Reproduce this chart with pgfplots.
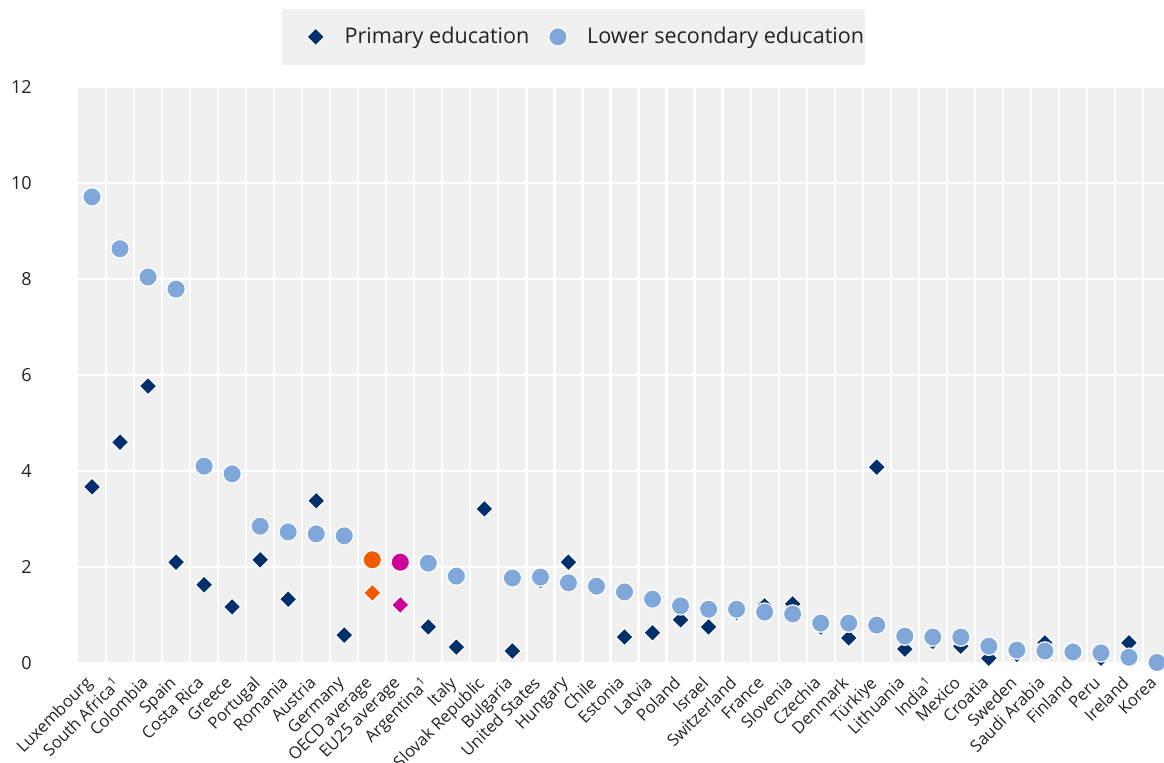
\documentclass[border=0pt]{standalone}
\usepackage{pgfplots}
\pgfplotsset{compat=1.18}
\usepackage{pgfplotstable}
\usepackage{fontspec}
\setmainfont{Open Sans}
\definecolor{bg}{HTML}{F0F0F0}
\definecolor{navy}{HTML}{002F6C}
\definecolor{lblue}{HTML}{7FA7D9}
\definecolor{oecd}{HTML}{F25A00}
\definecolor{eu}{HTML}{CC0099}
\definecolor{txt}{HTML}{222222}

\pgfplotstableread{
x prim low
0 3.67 9.71
1 4.60 8.63
2 5.77 8.04
3 2.10 7.79
4 1.63 4.10
5 1.17 3.94
6 2.15 2.85
7 1.33 2.73
8 3.38 2.69
9 0.58 2.65
10 1.46 2.15
11 1.21 2.10
12 0.75 2.08
13 0.33 1.81
14 3.21 nan
15 0.25 1.77
16 1.72 1.79
17 2.10 1.67
18 1.55 1.60
19 0.54 1.48
20 0.63 1.33
21 0.90 1.19
22 0.75 1.12
23 1.05 1.12
24 1.19 1.06
25 1.23 1.02
26 0.75 0.83
27 0.52 0.83
28 4.08 0.79
29 0.29 0.56
30 0.45 0.54
31 0.35 0.54
32 0.10 0.35
33 0.18 0.27
34 0.42 0.25
35 0.25 0.23
36 0.10 0.21
37 0.42 0.12
38 0.02 0.01
}\data

\begin{document}
\begin{tikzpicture}
\begin{axis}[
  name=ax,
  scale only axis,
  width=543pt, height=288pt,
  xmin=-0.5, xmax=38.25,
  ymin=0, ymax=12,
  clip=false,
  axis background/.style={fill=bg},
  axis line style={draw=none},
  major tick length=0pt, minor tick length=0pt,
  ytick={0,2,...,12},
  ymajorgrids,
  major grid style={white, line width=1.1pt},
  xtick={0,...,38},
  minor xtick={0.5,1.5,...,37.5},
  xminorgrids,
  minor grid style={white, line width=1.1pt},
  xticklabels={Luxembourg, South Africa\textsuperscript{1}, Colombia, Spain, Costa Rica, Greece, Portugal, Romania, Austria, Germany, OECD average, EU25 average, Argentina\textsuperscript{1}, Italy, Slovak Republic, Bulgaria, United States, Hungary, Chile, Estonia, Latvia, Poland, Israel, Switzerland, France, Slovenia, Czechia, Denmark, Türkiye, Lithuania, India\textsuperscript{1}, Mexico, Croatia, Sweden, Saudi Arabia, Finland, Peru, Ireland, Korea},
  x tick label style={xshift=-4pt, yshift=-6pt, rotate=45, anchor=north east, font=\fontsize{8.3}{9.5}\selectfont, text=txt, inner sep=0pt},
  y tick label style={font=\fontsize{9}{11}\selectfont, text=txt, inner sep=0pt, anchor=east, xshift=-23pt},
  /pgf/number format/assume math mode=true,
  legend columns=2,
  legend image code/.code={\path (-12.5pt,0pt) (8pt,0pt); \draw[#1] plot coordinates {(4pt,0pt)};},
  legend style={fill=bg, draw=none, at={(0.1878,1)}, anchor=south west, yshift=11pt,
    font=\fontsize{10.8}{12}\selectfont, text=txt,
    inner xsep=0pt, inner ysep=8.5pt,
    nodes={inner sep=0.5pt},
    /tikz/every odd column/.append style={column sep=9.5pt},
    /tikz/every even column/.append style={column sep=-3pt}},
  legend cell align=left,
]
\addplot[only marks, mark=square*, mark size=3.1pt, mark options={rotate=45, fill=navy, draw=white, line width=0.6pt},
  x filter/.expression={(x==10||x==11)?nan:x}] table[x=x, y=prim] {\data};
\addlegendentry{Primary education}
\addplot[only marks, mark=square*, mark size=3.1pt, mark options={rotate=45, fill=oecd, draw=white, line width=0.6pt}, forget plot,
  x filter/.expression={(x==10)?x:nan}] table[x=x, y=prim] {\data};
\addplot[only marks, mark=square*, mark size=3.1pt, mark options={rotate=45, fill=eu, draw=white, line width=0.6pt}, forget plot,
  x filter/.expression={(x==11)?x:nan}] table[x=x, y=prim] {\data};
\addplot[only marks, mark=*, mark size=4.6pt, mark options={fill=lblue, draw=white, line width=0.6pt},
  x filter/.expression={(x==10||x==11)?nan:x}] table[x=x, y=low] {\data};
\addlegendentry{Lower secondary education}
\addplot[only marks, mark=*, mark size=4.6pt, mark options={fill=oecd, draw=white, line width=0.6pt}, forget plot,
  x filter/.expression={(x==10)?x:nan}] table[x=x, y=low] {\data};
\addplot[only marks, mark=*, mark size=4.6pt, mark options={fill=eu, draw=white, line width=0.6pt}, forget plot,
  x filter/.expression={(x==11)?x:nan}] table[x=x, y=low] {\data};
\end{axis}
\pgfresetboundingbox
\path ([xshift=-39pt,yshift=-50pt]ax.south west) rectangle ([yshift=43.5pt]ax.north east);
\end{tikzpicture}
\end{document}
